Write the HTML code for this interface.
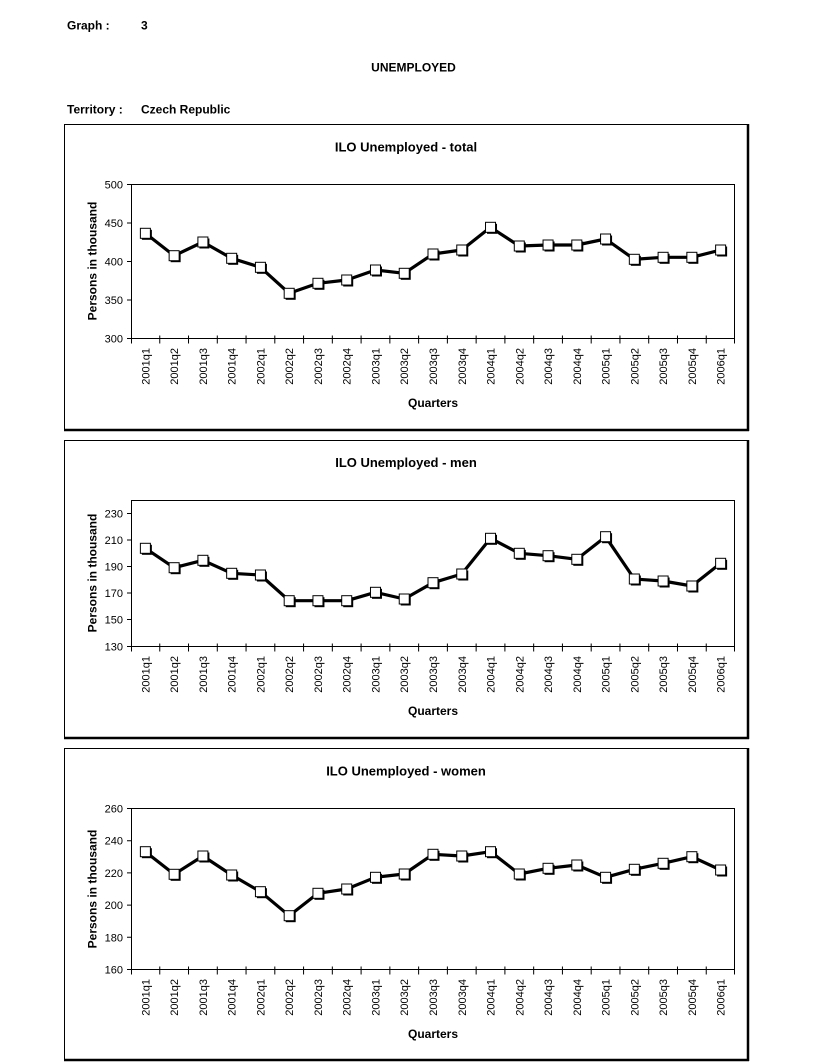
<!DOCTYPE html>
<html><head><meta charset="utf-8"><style>
html,body{margin:0;padding:0;background:#fff;}
svg{display:block;}
text{font-family:"Liberation Sans",Arial,sans-serif;fill:#000;}
.b{font-weight:bold;font-size:12px;}
.h{font-weight:bold;font-size:13px;}
.t{font-size:11px;}
.x{font-size:11px;}
</style></head><body>
<svg width="831" height="1063" viewBox="0 0 831 1063" xmlns="http://www.w3.org/2000/svg">
<defs>
<g id="m"><rect x="-3.5" y="-3.5" width="10" height="10" fill="#000"/><rect x="-5" y="-5" width="10" height="10" fill="#fff" stroke="#000" stroke-width="1"/></g>
<g id="xt" stroke="#000" stroke-width="1">
<path d="M131.5 -3V5M159.76 -3V5M188.52 -3V5M217.29 -3V5M246.05 -3V5M274.81 -3V5M303.57 -3V5M332.33 -3V5M361.1 -3V5M389.86 -3V5M418.62 -3V5M447.38 -3V5M476.14 -3V5M504.9 -3V5M533.67 -3V5M562.43 -3V5M591.19 -3V5M619.95 -3V5M648.71 -3V5M677.48 -3V5M706.24 -3V5M734.5 -3V5"/>
</g>
</defs>
<rect width="831" height="1063" fill="#fff"/>
<!-- header -->
<text class="b" x="67" y="29.5">Graph :</text>
<text class="b" x="141" y="29.5">3</text>
<text class="b" x="413.5" y="71.5" text-anchor="middle">UNEMPLOYED</text>
<text class="b" x="67" y="113.5">Territory :</text>
<text class="b" x="141" y="113.5">Czech Republic</text>

<!-- ===== Chart 1 ===== -->
<rect x="64.5" y="124.5" width="683" height="305" fill="none" stroke="#000" stroke-width="1"/>
<line x1="748" y1="124" x2="748" y2="431" stroke="#000" stroke-width="2.5"/>
<line x1="64" y1="430" x2="749" y2="430" stroke="#000" stroke-width="2.5"/>
<text class="h" x="406" y="151.5" text-anchor="middle">ILO Unemployed - total</text>
<rect x="131.5" y="184.5" width="603" height="154" fill="#fff" stroke="#000" stroke-width="1"/>
<path d="M127 184.5H131.5M127 223H131.5M127 261.5H131.5M127 300H131.5M127 338.5H131.5" stroke="#000"/>
<text class="t" x="123" y="188.5" text-anchor="end">500</text>
<text class="t" x="123" y="227" text-anchor="end">450</text>
<text class="t" x="123" y="265.5" text-anchor="end">400</text>
<text class="t" x="123" y="304" text-anchor="end">350</text>
<text class="t" x="123" y="342.5" text-anchor="end">300</text>
<use href="#xt" transform="translate(0,338.5)"/>
<text class="b" transform="translate(96.5,261) rotate(-90)" text-anchor="middle">Persons in thousand</text>
<text class="b" x="433" y="407" text-anchor="middle">Quarters</text>
<g class="x" text-anchor="end">
<text transform="translate(149.4,348) rotate(-90)">2001q1</text>
<text transform="translate(178.1,348) rotate(-90)">2001q2</text>
<text transform="translate(206.9,348) rotate(-90)">2001q3</text>
<text transform="translate(235.7,348) rotate(-90)">2001q4</text>
<text transform="translate(264.4,348) rotate(-90)">2002q1</text>
<text transform="translate(293.2,348) rotate(-90)">2002q2</text>
<text transform="translate(322,348) rotate(-90)">2002q3</text>
<text transform="translate(350.7,348) rotate(-90)">2002q4</text>
<text transform="translate(379.5,348) rotate(-90)">2003q1</text>
<text transform="translate(408.2,348) rotate(-90)">2003q2</text>
<text transform="translate(437,348) rotate(-90)">2003q3</text>
<text transform="translate(465.8,348) rotate(-90)">2003q4</text>
<text transform="translate(494.5,348) rotate(-90)">2004q1</text>
<text transform="translate(523.3,348) rotate(-90)">2004q2</text>
<text transform="translate(552,348) rotate(-90)">2004q3</text>
<text transform="translate(580.8,348) rotate(-90)">2004q4</text>
<text transform="translate(609.6,348) rotate(-90)">2005q1</text>
<text transform="translate(638.3,348) rotate(-90)">2005q2</text>
<text transform="translate(667.1,348) rotate(-90)">2005q3</text>
<text transform="translate(695.9,348) rotate(-90)">2005q4</text>
<text transform="translate(724.6,348) rotate(-90)">2006q1</text>
</g>
<polyline fill="none" stroke="#000" stroke-width="3.2" stroke-linejoin="round" points="145.38,233.3 174.14,255.7 202.9,242 231.67,258.3 260.43,267.3 289.19,293.3 317.95,283.3 346.71,280 375.48,270 404.24,273.3 433,254 461.76,250 490.52,227.3 519.29,246 548.05,245 576.81,245 605.57,239 634.33,259.3 663.1,257.3 691.86,257.3 720.62,250"/>
<use href="#m" x="145.38" y="233.3"/><use href="#m" x="174.14" y="255.7"/><use href="#m" x="202.9" y="242"/><use href="#m" x="231.67" y="258.3"/><use href="#m" x="260.43" y="267.3"/><use href="#m" x="289.19" y="293.3"/><use href="#m" x="317.95" y="283.3"/><use href="#m" x="346.71" y="280"/><use href="#m" x="375.48" y="270"/><use href="#m" x="404.24" y="273.3"/><use href="#m" x="433" y="254"/><use href="#m" x="461.76" y="250"/><use href="#m" x="490.52" y="227.3"/><use href="#m" x="519.29" y="246"/><use href="#m" x="548.05" y="245"/><use href="#m" x="576.81" y="245"/><use href="#m" x="605.57" y="239"/><use href="#m" x="634.33" y="259.3"/><use href="#m" x="663.1" y="257.3"/><use href="#m" x="691.86" y="257.3"/><use href="#m" x="720.62" y="250"/>

<!-- ===== Chart 2 ===== -->
<rect x="64.5" y="440.5" width="683" height="297" fill="none" stroke="#000" stroke-width="1"/>
<line x1="748" y1="440" x2="748" y2="739" stroke="#000" stroke-width="2.5"/>
<line x1="64" y1="738" x2="749" y2="738" stroke="#000" stroke-width="2.5"/>
<text class="h" x="406" y="467" text-anchor="middle">ILO Unemployed - men</text>
<rect x="131.5" y="500.5" width="603" height="146" fill="#fff" stroke="#000" stroke-width="1"/>
<path d="M127 513.5H131.5M127 540H131.5M127 566.5H131.5M127 593H131.5M127 619.5H131.5M127 646.5H131.5" stroke="#000"/>
<text class="t" x="123" y="517.5" text-anchor="end">230</text>
<text class="t" x="123" y="544" text-anchor="end">210</text>
<text class="t" x="123" y="570.5" text-anchor="end">190</text>
<text class="t" x="123" y="597" text-anchor="end">170</text>
<text class="t" x="123" y="623.5" text-anchor="end">150</text>
<text class="t" x="123" y="650.5" text-anchor="end">130</text>
<use href="#xt" transform="translate(0,646.5)"/>
<text class="b" transform="translate(96.5,573) rotate(-90)" text-anchor="middle">Persons in thousand</text>
<text class="b" x="433" y="715" text-anchor="middle">Quarters</text>
<g class="x" text-anchor="end">
<text transform="translate(149.4,656) rotate(-90)">2001q1</text>
<text transform="translate(178.1,656) rotate(-90)">2001q2</text>
<text transform="translate(206.9,656) rotate(-90)">2001q3</text>
<text transform="translate(235.7,656) rotate(-90)">2001q4</text>
<text transform="translate(264.4,656) rotate(-90)">2002q1</text>
<text transform="translate(293.2,656) rotate(-90)">2002q2</text>
<text transform="translate(322,656) rotate(-90)">2002q3</text>
<text transform="translate(350.7,656) rotate(-90)">2002q4</text>
<text transform="translate(379.5,656) rotate(-90)">2003q1</text>
<text transform="translate(408.2,656) rotate(-90)">2003q2</text>
<text transform="translate(437,656) rotate(-90)">2003q3</text>
<text transform="translate(465.8,656) rotate(-90)">2003q4</text>
<text transform="translate(494.5,656) rotate(-90)">2004q1</text>
<text transform="translate(523.3,656) rotate(-90)">2004q2</text>
<text transform="translate(552,656) rotate(-90)">2004q3</text>
<text transform="translate(580.8,656) rotate(-90)">2004q4</text>
<text transform="translate(609.6,656) rotate(-90)">2005q1</text>
<text transform="translate(638.3,656) rotate(-90)">2005q2</text>
<text transform="translate(667.1,656) rotate(-90)">2005q3</text>
<text transform="translate(695.9,656) rotate(-90)">2005q4</text>
<text transform="translate(724.6,656) rotate(-90)">2006q1</text>
</g>
<polyline fill="none" stroke="#000" stroke-width="3.2" stroke-linejoin="round" points="145.38,548.3 174.14,567.7 202.9,560.3 231.67,573.3 260.43,575 289.19,600.7 317.95,600.7 346.71,600.7 375.48,592.3 404.24,599 433,582.7 461.76,574 490.52,538.3 519.29,553.3 548.05,555.7 576.81,559.3 605.57,536.7 634.33,579 663.1,581 691.86,586 720.62,563.3"/>
<use href="#m" x="145.38" y="548.3"/><use href="#m" x="174.14" y="567.7"/><use href="#m" x="202.9" y="560.3"/><use href="#m" x="231.67" y="573.3"/><use href="#m" x="260.43" y="575"/><use href="#m" x="289.19" y="600.7"/><use href="#m" x="317.95" y="600.7"/><use href="#m" x="346.71" y="600.7"/><use href="#m" x="375.48" y="592.3"/><use href="#m" x="404.24" y="599"/><use href="#m" x="433" y="582.7"/><use href="#m" x="461.76" y="574"/><use href="#m" x="490.52" y="538.3"/><use href="#m" x="519.29" y="553.3"/><use href="#m" x="548.05" y="555.7"/><use href="#m" x="576.81" y="559.3"/><use href="#m" x="605.57" y="536.7"/><use href="#m" x="634.33" y="579"/><use href="#m" x="663.1" y="581"/><use href="#m" x="691.86" y="586"/><use href="#m" x="720.62" y="563.3"/>

<!-- ===== Chart 3 ===== -->
<rect x="64.5" y="748.5" width="683" height="311" fill="none" stroke="#000" stroke-width="1"/>
<line x1="748" y1="748" x2="748" y2="1061" stroke="#000" stroke-width="2.5"/>
<line x1="64" y1="1060" x2="749" y2="1060" stroke="#000" stroke-width="2.5"/>
<text class="h" x="406" y="775.5" text-anchor="middle">ILO Unemployed - women</text>
<rect x="131.5" y="808.5" width="603" height="161" fill="#fff" stroke="#000" stroke-width="1"/>
<path d="M127 808.5H131.5M127 840.7H131.5M127 872.9H131.5M127 905.1H131.5M127 937.3H131.5M127 969.5H131.5" stroke="#000"/>
<text class="t" x="123" y="812.5" text-anchor="end">260</text>
<text class="t" x="123" y="844.7" text-anchor="end">240</text>
<text class="t" x="123" y="876.9" text-anchor="end">220</text>
<text class="t" x="123" y="909.1" text-anchor="end">200</text>
<text class="t" x="123" y="941.3" text-anchor="end">180</text>
<text class="t" x="123" y="973.5" text-anchor="end">160</text>
<use href="#xt" transform="translate(0,969.5)"/>
<text class="b" transform="translate(96.5,889) rotate(-90)" text-anchor="middle">Persons in thousand</text>
<text class="b" x="433" y="1038" text-anchor="middle">Quarters</text>
<g class="x" text-anchor="end">
<text transform="translate(149.4,979) rotate(-90)">2001q1</text>
<text transform="translate(178.1,979) rotate(-90)">2001q2</text>
<text transform="translate(206.9,979) rotate(-90)">2001q3</text>
<text transform="translate(235.7,979) rotate(-90)">2001q4</text>
<text transform="translate(264.4,979) rotate(-90)">2002q1</text>
<text transform="translate(293.2,979) rotate(-90)">2002q2</text>
<text transform="translate(322,979) rotate(-90)">2002q3</text>
<text transform="translate(350.7,979) rotate(-90)">2002q4</text>
<text transform="translate(379.5,979) rotate(-90)">2003q1</text>
<text transform="translate(408.2,979) rotate(-90)">2003q2</text>
<text transform="translate(437,979) rotate(-90)">2003q3</text>
<text transform="translate(465.8,979) rotate(-90)">2003q4</text>
<text transform="translate(494.5,979) rotate(-90)">2004q1</text>
<text transform="translate(523.3,979) rotate(-90)">2004q2</text>
<text transform="translate(552,979) rotate(-90)">2004q3</text>
<text transform="translate(580.8,979) rotate(-90)">2004q4</text>
<text transform="translate(609.6,979) rotate(-90)">2005q1</text>
<text transform="translate(638.3,979) rotate(-90)">2005q2</text>
<text transform="translate(667.1,979) rotate(-90)">2005q3</text>
<text transform="translate(695.9,979) rotate(-90)">2005q4</text>
<text transform="translate(724.6,979) rotate(-90)">2006q1</text>
</g>
<polyline fill="none" stroke="#000" stroke-width="3.2" stroke-linejoin="round" points="145.38,851.7 174.14,874.3 202.9,856 231.67,875 260.43,891.7 289.19,915.7 317.95,893.3 346.71,889 375.48,877.3 404.24,874 433,854.3 461.76,856 490.52,851.7 519.29,874 548.05,868.3 576.81,865 605.57,877.3 634.33,869.3 663.1,863.3 691.86,856.7 720.62,870"/>
<use href="#m" x="145.38" y="851.7"/><use href="#m" x="174.14" y="874.3"/><use href="#m" x="202.9" y="856"/><use href="#m" x="231.67" y="875"/><use href="#m" x="260.43" y="891.7"/><use href="#m" x="289.19" y="915.7"/><use href="#m" x="317.95" y="893.3"/><use href="#m" x="346.71" y="889"/><use href="#m" x="375.48" y="877.3"/><use href="#m" x="404.24" y="874"/><use href="#m" x="433" y="854.3"/><use href="#m" x="461.76" y="856"/><use href="#m" x="490.52" y="851.7"/><use href="#m" x="519.29" y="874"/><use href="#m" x="548.05" y="868.3"/><use href="#m" x="576.81" y="865"/><use href="#m" x="605.57" y="877.3"/><use href="#m" x="634.33" y="869.3"/><use href="#m" x="663.1" y="863.3"/><use href="#m" x="691.86" y="856.7"/><use href="#m" x="720.62" y="870"/>
</svg>
</body></html>
